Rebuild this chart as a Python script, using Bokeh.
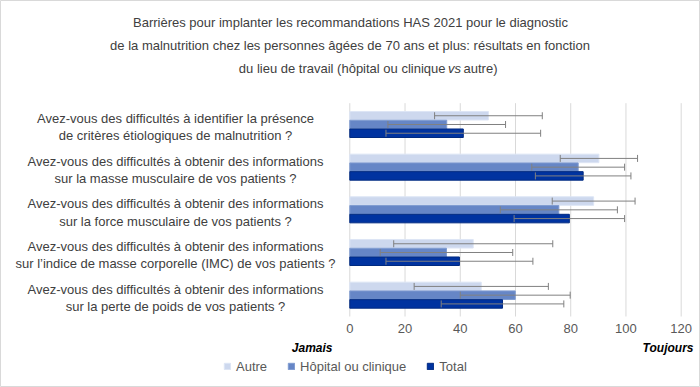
from bokeh.plotting import figure
from bokeh.models import (ColumnDataSource, Whisker, TeeHead, Label, Legend,
                          LegendItem, Range1d)
from bokeh.core.properties import value
from bokeh.embed import file_html
from bokeh.resources import INLINE

# ---------------- data ----------------
questions = [
    "Avez-vous des difficultés à identifier la présence\nde critères étiologiques de malnutrition ?",
    "Avez-vous des difficultés à obtenir des informations\nsur la masse musculaire de vos patients ?",
    "Avez-vous des difficultés à obtenir des informations\nsur la force musculaire de vos patients ?",
    "Avez-vous des difficultés à obtenir des informations\nsur l’indice de masse corporelle (IMC) de vos patients ?",
    "Avez-vous des difficultés à obtenir des informations\nsur la perte de poids de vos patients ?",
]
series = ["Autre", "Hôpital ou clinique", "Total"]
autre_mean = [50.2, 90.2, 88.3, 44.7, 47.6]
autre_sd = [19.5, 14.0, 15.0, 28.8, 24.3]
hopital_mean = [35.1, 82.7, 75.7, 35.0, 59.9]
hopital_sd = [21.3, 16.8, 21.2, 24.0, 19.9]
total_mean = [41.1, 84.5, 79.5, 39.7, 55.3]
total_sd = [28.0, 17.3, 20.0, 26.6, 22.2]
x_ticks = [0, 20, 40, 60, 80, 100, 120]
x_tick_labels = ["0", "20", "40", "60", "80", "100", "120"]
title_lines = [
    "Barrières pour implanter les recommandations HAS 2021 pour le diagnostic",
    "de la malnutrition chez les personnes âgées de 70 ans et plus: résultats en fonction",
]
title_line3 = ["du lieu de travail (hôpital ou clinique", "vs", "autre)"]
axis_left_label = "Jamais"
axis_right_label = "Toujours"

fills = ["#cdd8ee", "#6686c6", "#0033a0"]
lines = ["#dde5f5", "#7f9bd0", "#002a80"]
FONT = "Liberation Sans"
W, H = 700, 387
n = len(questions)

# frame covers the whole canvas; the data ranges place the plot region
p = figure(width=W, height=H, x_range=Range1d(-126.48, 126.99),
           y_range=Range1d(-1.664, 7.406),
           output_backend="svg", toolbar_location=None,
           min_border_left=0, min_border_right=0, min_border_top=0,
           min_border_bottom=0)
p.outline_line_color = "#d9d9d9"
p.background_fill_color = "white"
p.border_fill_color = "white"
p.xaxis.visible = False
p.yaxis.visible = False
p.xgrid.visible = False
p.ygrid.visible = False

# vertical grid lines and tick labels through the data scales
p.segment(x0=x_ticks, y0=[0] * len(x_ticks), x1=x_ticks, y1=[n] * len(x_ticks),
          line_color="#d9d9d9", line_width=1)
p.text(x=x_ticks, y=[-0.281] * len(x_ticks), text=x_tick_labels,
       text_align="center", text_baseline="middle", text_font=value(FONT),
       text_font_size="13px", text_color="#595959")

offsets = [0.205, 0.0, -0.205]
means_all = [autre_mean, hopital_mean, total_mean]
sds_all = [autre_sd, hopital_sd, total_sd]
items = []
for si, name in enumerate(series):
    ys = [n - 0.5 - k + offsets[si] for k in range(n)]
    m = means_all[si]
    s = sds_all[si]
    src = ColumnDataSource(dict(y=ys, right=m,
                                lower=[a - b for a, b in zip(m, s)],
                                upper=[a + b for a, b in zip(m, s)]))
    r = p.hbar(y="y", right="right", left=0, height=0.2, source=src,
               fill_color=fills[si], line_color=lines[si], line_width=1)
    items.append(LegendItem(label=name, renderers=[r]))
    w = Whisker(base="y", lower="lower", upper="upper", dimension="width",
                source=src, line_color="#808080", line_width=1, level="annotation",
                upper_head=TeeHead(size=7, line_color="#808080", line_width=1),
                lower_head=TeeHead(size=7, line_color="#808080", line_width=1))
    p.add_layout(w)

legend = Legend(items=items, orientation="horizontal", location=(223, 13.5),
                glyph_width=8, glyph_height=8, label_standoff=5, spacing=20,
                padding=0, margin=0, border_line_color=None,
                background_fill_alpha=0, label_text_font_size="13px",
                label_text_font=FONT, label_text_color="#595959",
                label_height=14, label_width=0)
p.add_layout(legend)


def lab(text, ax, ay, align="center", size="13px", style="normal", color="#404040"):
    p.add_layout(Label(x=ax, y=H - ay, x_units="screen", y_units="screen",
                       text=text, text_align=align, text_baseline="middle",
                       text_font=FONT, text_font_size=size, text_font_style=style,
                       text_color=color))


for k, q in enumerate(questions):
    p.add_layout(Label(x=175, y=n - 0.5 - k - 0.06, x_units="screen",
                       y_units="data", text=q, text_align="center",
                       text_baseline="middle", text_font=FONT,
                       text_font_size="13px", text_color="#404040",
                       text_line_height=1.15))

lab(title_lines[0], 350, 22)
lab(title_lines[1], 349.5, 45)
lab(title_line3[0], 445, 68, align="right")
lab(title_line3[1], 454, 68, align="center", style="italic")
lab(title_line3[2], 463, 68, align="left")

lab(axis_left_label, 332, 347, align="right", size="12px", style="bold italic", color="#000000")
lab(axis_right_label, 693, 347, align="right", size="12px", style="bold italic", color="#000000")

open("out.html", "w").write(file_html(p, INLINE))
